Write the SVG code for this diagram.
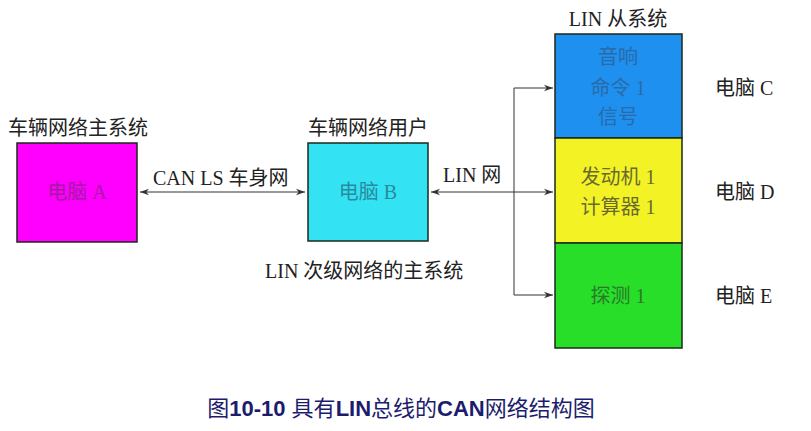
<svg xmlns="http://www.w3.org/2000/svg" width="811" height="431" viewBox="0 0 811 431">
<style>
.t{font-family:"Liberation Serif","Noto Sans CJK SC",serif;font-size:20px;fill:#222;}
.c{text-anchor:middle;}
.box{stroke:#1a2a1a;stroke-width:1.5;}
.ln{stroke:#333;stroke-width:1;fill:none;}
.cap{font-family:"Liberation Sans","Noto Sans CJK SC",sans-serif;font-size:22px;fill:#1c1c6e;text-anchor:middle;}
</style>
<defs>
<marker id="ah" viewBox="0 0 10 10" refX="10" refY="5" markerWidth="9" markerHeight="9" orient="auto-start-reverse" markerUnits="userSpaceOnUse">
<path d="M0,1.5 L10,5 L0,8.5 L3,5 z" fill="#333"/>
</marker>
</defs>
<rect width="811" height="431" fill="#fff"/>
<g id="connectors">
<line class="ln" x1="140" y1="192" x2="305" y2="192" marker-start="url(#ah)" marker-end="url(#ah)"/>
<line class="ln" x1="431" y1="192" x2="553" y2="192" marker-start="url(#ah)" marker-end="url(#ah)"/>
<line class="ln" x1="514" y1="88" x2="514" y2="295"/>
<line class="ln" x1="514" y1="88" x2="553" y2="88" marker-end="url(#ah)"/>
<line class="ln" x1="514" y1="295" x2="553" y2="295" marker-end="url(#ah)"/>
</g>
<g id="nodeA">
<text class="t" x="8" y="135">车辆网络主系统</text>
<rect class="box" x="17" y="143" width="120" height="99" fill="#ff00ff"/>
<text class="t c" x="77" y="199" style="fill:#a41aa4">电脑 A</text>
</g>
<g id="labelCAN">
<text class="t" x="153" y="185">CAN LS 车身网</text>
</g>
<g id="nodeB">
<text class="t" x="308" y="135">车辆网络用户</text>
<rect class="box" x="308" y="143" width="120" height="98" fill="#33e3f3"/>
<text class="t c" x="368" y="199" style="fill:#2a8a9e">电脑 B</text>
<text class="t" x="265" y="278">LIN 次级网络的主系统</text>
</g>
<g id="labelLIN">
<text class="t" x="443" y="182">LIN 网</text>
</g>
<g id="nodeC">
<text class="t c" x="618" y="26">LIN 从系统</text>
<rect class="box" x="555" y="34" width="127" height="104" fill="#1e90f0"/>
<text class="t c" x="618" y="64" style="fill:#2a6aa8">音响</text>
<text class="t c" x="618" y="95" style="fill:#2a6aa8">命令 1</text>
<text class="t c" x="618" y="124" style="fill:#2a6aa8">信号</text>
<text class="t" x="715" y="95">电脑 C</text>
</g>
<g id="nodeD">
<rect class="box" x="555" y="138" width="127" height="105" fill="#f2f224"/>
<text class="t c" x="618" y="184" style="fill:#6a6a30">发动机 1</text>
<text class="t c" x="618" y="214" style="fill:#6a6a30">计算器 1</text>
<text class="t" x="715" y="199">电脑 D</text>
</g>
<g id="nodeE">
<rect class="box" x="555" y="243" width="127" height="105" fill="#28de28"/>
<text class="t c" x="618" y="303" style="fill:#2a7a2a">探测 1</text>
<text class="t" x="715" y="303">电脑 E</text>
</g>
<g id="caption">
<text class="cap" x="401" y="416">图<tspan font-weight="bold">10-10</tspan> 具有<tspan font-weight="bold">LIN</tspan>总线的<tspan font-weight="bold">CAN</tspan>网络结构图</text>
</g>
</svg>
